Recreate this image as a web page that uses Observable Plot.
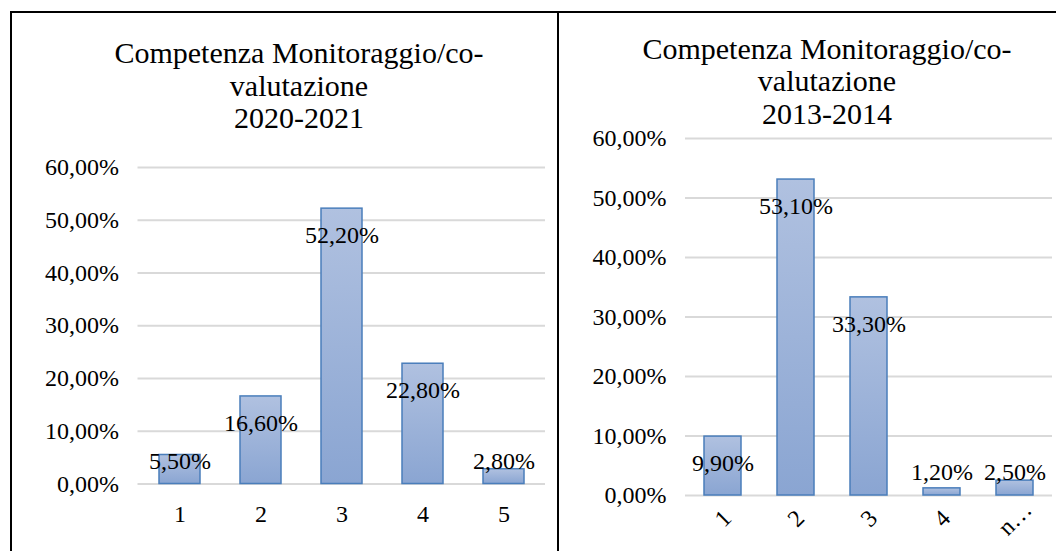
<!DOCTYPE html>
<html><head><meta charset="utf-8">
<script src="https://cdn.jsdelivr.net/npm/d3@7"></script>
<script src="https://cdn.jsdelivr.net/npm/@observablehq/plot@0.6"></script>
<style>
body{margin:0;background:#fff;}
#wrap{position:relative;width:1056px;height:551px;overflow:hidden;font-family:"Liberation Serif","Times New Roman",serif;}
.title{position:absolute;text-align:center;font-size:30px;line-height:32.5px;color:#000;width:560px;white-space:pre;}
.border{position:absolute;background:#000;}
#wrap svg{position:absolute;}
</style></head><body>
<div id="wrap"></div>
<script>
const titleLines = ["Competenza Monitoraggio/co-", "valutazione"];
const period2021 = "2020-2021";
const period2013 = "2013-2014";
const categories2021 = ["1", "2", "3", "4", "5"];
const values2021 = [5.5, 16.6, 52.2, 22.8, 2.8];
const categories2013 = ["1", "2", "3", "4", "n…"];
const values2013 = [9.9, 53.1, 33.3, 1.2, 2.5];
const yTicks = [0, 10, 20, 30, 40, 50, 60];

const fmt = v => v.toFixed(2).replace(".", ",") + "%";
const wrap = document.getElementById("wrap");

function addDiv(cls, css, text) {
  const d = document.createElement("div");
  d.className = cls;
  Object.assign(d.style, css);
  if (text) d.textContent = text;
  wrap.appendChild(d);
  return d;
}

function chart({cats, vals, width, height, mt, mb, ml, mr, padding, rotate, gradId, left, top}) {
  const data = cats.map((c, i) => ({c, v: vals[i]}));
  const pxPerUnit = (height - mt - mb) / 60;
  const big = data.filter(d => d.v * pxPerUnit > 50);
  const small = data.filter(d => d.v * pxPerUnit <= 50);
  const svg = Plot.plot({
    width, height, marginTop: mt, marginBottom: mb, marginLeft: ml, marginRight: mr,
    style: {fontFamily: "'Liberation Serif','Times New Roman',serif", fontSize: "24px", color: "#000", background: "transparent", overflow: "visible"},
    x: {domain: cats, paddingInner: padding, paddingOuter: padding / 2, label: null},
    y: {domain: [0, 60], label: null},
    marks: [
      Plot.gridY(yTicks, {stroke: "#d9d9d9", strokeOpacity: 1, strokeWidth: 2}),
      Plot.barY(data, {x: "c", y: "v", fill: `url(#${gradId})`, stroke: "#4a7ebb", strokeWidth: 1.5}),
      Plot.axisY(yTicks, {tickSize: 0, tickPadding: 19, tickFormat: fmt, fontSize: 24, fill: "#000"}),
      rotate
        ? Plot.axisX({tickSize: 0, tickRotate: -45, tickPadding: 23, textAnchor: "middle", lineAnchor: "middle", fontSize: 24, fill: "#000"})
        : Plot.axisX({tickSize: 0, tickPadding: 21, fontSize: 24, fill: "#000"}),
      Plot.text(big, {x: "c", y: "v", text: d => fmt(d.v), dy: 27, fontSize: 24, fill: "#000"}),
      Plot.text(small, {x: "c", y: 0, text: d => fmt(d.v), dy: -23, fontSize: 24, fill: "#000"})
    ]
  });
  const defs = d3.select(svg).insert("defs", ":first-child");
  const g = defs.append("linearGradient").attr("id", gradId)
    .attr("x1", 0).attr("y1", 0).attr("x2", 0).attr("y2", 1);
  g.append("stop").attr("offset", "0%").attr("stop-color", "#b0c1e0");
  g.append("stop").attr("offset", "100%").attr("stop-color", "#8aa5d2");
  svg.style.left = left + "px";
  svg.style.top = top + "px";
  wrap.appendChild(svg);
}

chart({cats: categories2021, vals: values2021, width: 546, height: 421, mt: 37, mb: 67.5, ml: 126.5, mr: 12, padding: 0.49, rotate: false, gradId: "gradA", left: 11, top: 130});
chart({cats: categories2013, vals: values2013, width: 498, height: 451, mt: 38, mb: 56, ml: 127, mr: 4, padding: 0.5, rotate: true, gradId: "gradB", left: 558, top: 100});

addDiv("title", {left: "19px", top: "37px"}, [...titleLines, period2021].join("\n"));
addDiv("title", {left: "547px", top: "32.5px"}, [...titleLines, period2013].join("\n"));

addDiv("border", {left: "11px", top: "11px", width: "1045px", height: "2px"});
addDiv("border", {left: "10px", top: "11px", width: "2px", height: "540px"});
addDiv("border", {left: "557px", top: "11px", width: "2px", height: "540px"});
</script>
</body></html>
